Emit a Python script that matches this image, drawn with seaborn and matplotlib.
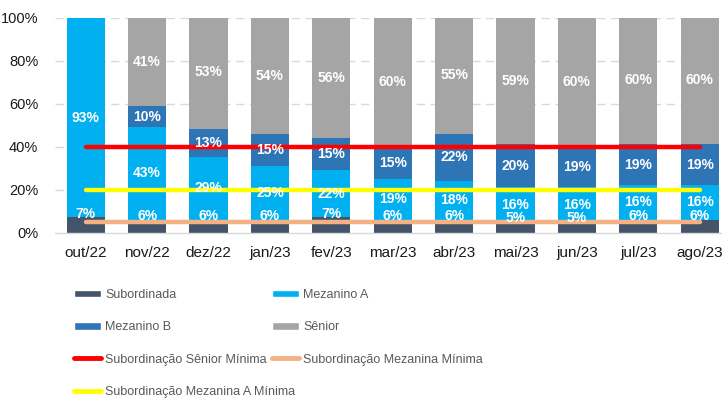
import matplotlib
matplotlib.use("Agg")
import matplotlib.pyplot as plt
import seaborn as sns
import numpy as np
import pandas as pd
from matplotlib.patches import Patch
from matplotlib.lines import Line2D

categories = ["out/22", "nov/22", "dez/22", "jan/23", "fev/23", "mar/23",
              "abr/23", "mai/23", "jun/23", "jul/23", "ago/23"]
subordinada = [7, 6, 6, 6, 7, 6, 6, 5, 5, 6, 6]
mezanino_a = [93, 43, 29, 25, 22, 19, 18, 16, 16, 16, 16]
mezanino_b = [0, 10, 13, 15, 15, 15, 22, 20, 19, 19, 19]
senior = [0, 41, 53, 54, 56, 60, 55, 59, 60, 60, 60]
sub_senior_min = [40] * 11
sub_mez_min = [5] * 11
sub_mez_a_min = [20] * 11
y_ticks = [0, 20, 40, 60, 80, 100]

sns.set_theme(style="white")
plt.rcParams['font.family'] = ['Liberation Sans', 'DejaVu Sans']

C_SUB = "#44546A"
C_MA = "#00B0F0"
C_MB = "#2E75B6"
C_SEN = "#A5A5A5"
C_RED = "#FF0000"
C_ORG = "#F4B183"
C_YEL = "#FFFF00"

df = pd.DataFrame({
    "cat": categories,
    "sub": subordinada,
    "ma": mezanino_a,
    "mb": mezanino_b,
    "sen": senior,
})
df["c1"] = df["sub"]
df["c2"] = df["c1"] + df["ma"]
df["c3"] = df["c2"] + df["mb"]
df["c4"] = df["c3"] + df["sen"]

fig = plt.figure(figsize=(7.22, 4.01), dpi=100)
ax = fig.add_axes([55 / 722, 1 - 232.5 / 401, 675.4 / 722, 214.8 / 401])

bw = 0.62
for col, color in [("c4", C_SEN), ("c3", C_MB), ("c2", C_MA), ("c1", C_SUB)]:
    sns.barplot(data=df, x="cat", y=col, color=color, width=bw, ax=ax,
                saturation=1, linewidth=0, zorder=2)

# gridlines
for yv in y_ticks[1:]:
    ax.axhline(yv, color="#D9D9D9", lw=1.0, ls=(0, (6, 4)), zorder=1)

x = np.arange(len(categories))
ax.plot(x, sub_senior_min, color=C_RED, lw=3.2, solid_capstyle="round", zorder=4)
ax.plot(x, sub_mez_a_min, color=C_YEL, lw=3.2, solid_capstyle="round", zorder=4)
ax.plot(x, sub_mez_min, color=C_ORG, lw=3.2, solid_capstyle="round", zorder=4)

# data labels
lab_kw = dict(ha="center", va="center", color="white", fontsize=10,
              fontweight="bold", zorder=5)
for i in range(len(categories)):
    s, a, b, sn = subordinada[i], mezanino_a[i], mezanino_b[i], senior[i]
    ax.text(i, s + 1.6, f"{s}%", **lab_kw)
    if a:
        ax.text(i, s + a / 2, f"{a}%", **lab_kw)
    if b:
        ax.text(i, s + a + b / 2, f"{b}%", **lab_kw)
    if sn:
        ax.text(i, s + a + b + sn / 2, f"{sn}%", **lab_kw)

ax.set_ylim(0, 100)
ax.set_xlim(-0.5, len(categories) - 0.5)
ax.set_yticks(y_ticks)
ax.set_yticklabels([f"{v}%" for v in y_ticks])
ax.set_xlabel("")
ax.set_ylabel("")
ax.tick_params(axis="y", length=0, pad=12, labelsize=10.5, labelcolor="#1a1a1a")
ax.tick_params(axis="x", which="major", length=0, pad=10, labelsize=11, labelcolor="#1a1a1a")
ax.set_xticks(np.arange(-0.5, len(categories), 1), minor=True)
ax.tick_params(axis="x", which="minor", length=6, width=1, color="#D9D9D9", direction="out")
for sp in ["left", "right", "top"]:
    ax.spines[sp].set_visible(False)
ax.spines["bottom"].set_color("#D9D9D9")
ax.spines["bottom"].set_linewidth(1)
ax.spines["bottom"].set_zorder(3)

# legend: two columns
col1 = [Patch(facecolor=C_SUB, label="Subordinada"),
        Patch(facecolor=C_MB, label="Mezanino B"),
        Line2D([], [], color=C_RED, lw=3.5, solid_capstyle="round", label="Subordinação Sênior Mínima"),
        Line2D([], [], color=C_YEL, lw=3.5, solid_capstyle="round", label="Subordinação Mezanina A Mínima")]
col2 = [Patch(facecolor=C_MA, label="Mezanino A"),
        Patch(facecolor=C_SEN, label="Sênior"),
        Line2D([], [], color=C_ORG, lw=3.5, solid_capstyle="round", label="Subordinação Mezanina Mínima")]
leg_kw = dict(loc="upper left", frameon=False, fontsize=9, borderpad=0,
              borderaxespad=0, handlelength=2.19, handleheight=0.56,
              handletextpad=0.32, labelspacing=1.62, labelcolor="#595959")
l1 = fig.legend(handles=col1, bbox_to_anchor=(74 / 722, 1 - 289 / 401), **leg_kw)
l2 = fig.legend(handles=col2, bbox_to_anchor=(272 / 722, 1 - 289 / 401), **leg_kw)

fig.savefig("out.png", dpi=100)
